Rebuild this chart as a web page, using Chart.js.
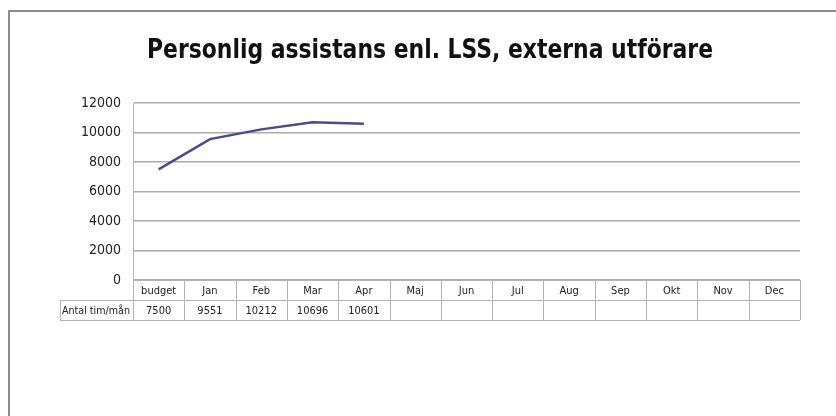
<!DOCTYPE html>
<html>
<head>
<meta charset="utf-8">
<script src="https://cdn.jsdelivr.net/npm/chart.js@4.4.1/dist/chart.umd.min.js"></script>
<style>
  html, body { margin: 0; padding: 0; background: #fff; }
  #wrap { position: relative; width: 836px; height: 416px; overflow: hidden; }
  #frame { position: absolute; left: 8px; top: 10px; right: -4px; bottom: -4px;
           border-top: 2px solid #8c8c8c; border-left: 2px solid #8c8c8c; }
  canvas { position: absolute; left: 0; top: 0; }
</style>
</head>
<body>
<div id="wrap">
  <div id="frame"></div>
  <canvas id="chart" width="836" height="416"></canvas>
</div>
<script>
// ─── Data ─────────────────────────────────────────────────────────────────────
const chartTitle = 'Personlig assistans enl. LSS, externa utförare';
const categories = ['budget', 'Jan', 'Feb', 'Mar', 'Apr', 'Maj', 'Jun', 'Jul', 'Aug', 'Sep', 'Okt', 'Nov', 'Dec'];
const seriesLabel = 'Antal tim/mån';
const hours = [7500, 9551, 10212, 10696, 10601, null, null, null, null, null, null, null, null];
const yMin = 0, yMax = 12000, yStep = 2000;

const narrow = "'Liberation Sans Narrow', 'DejaVu Sans Condensed', sans-serif";

// ─── Title + data table under the plot ────────────────────────────────────────
const tablePlugin = {
  id: 'dataTable',
  afterDraw(chart) {
    const ctx = chart.ctx;
    const x = chart.scales.x;
    const area = chart.chartArea;
    const colW = x.getPixelForValue(1) - x.getPixelForValue(0);
    const top = area.bottom, rowH = 20, labelLeft = 60;

    ctx.save();
    // title (squeezed to the reference width)
    ctx.fillStyle = '#111';
    ctx.font = `bold 27px ${narrow}`;
    ctx.textAlign = 'center';
    ctx.textBaseline = 'middle';
    ctx.fillText(chartTitle, 430, 51, 566);

    // table lines
    ctx.strokeStyle = '#b4b4b4';
    ctx.lineWidth = 1;
    ctx.beginPath();
    ctx.moveTo(area.left, top + 0.5); ctx.lineTo(area.right, top + 0.5);
    ctx.moveTo(labelLeft, top + rowH + 0.5); ctx.lineTo(area.right, top + rowH + 0.5);
    ctx.moveTo(labelLeft, top + 2 * rowH + 0.5); ctx.lineTo(area.right, top + 2 * rowH + 0.5);
    ctx.moveTo(labelLeft + 0.5, top + rowH); ctx.lineTo(labelLeft + 0.5, top + 2 * rowH);
    categories.forEach((c, i) => {
      const lx = Math.round(x.getPixelForValue(i) - colW / 2) + 0.5;
      ctx.moveTo(lx, top); ctx.lineTo(lx, top + 2 * rowH);
    });
    ctx.moveTo(Math.round(area.right) + 0.5, top); ctx.lineTo(Math.round(area.right) + 0.5, top + 2 * rowH);
    ctx.stroke();

    // texts
    ctx.fillStyle = '#222';
    ctx.font = `11px ${narrow}`;
    categories.forEach((c, i) => {
      const cx = x.getPixelForValue(i);
      ctx.fillText(c, cx, top + rowH / 2 + 1, colW - 6);
      if (hours[i] != null) ctx.fillText(String(hours[i]), cx, top + rowH * 1.5 + 1, colW - 10);
    });
    ctx.textAlign = 'left';
    ctx.fillText(seriesLabel, labelLeft + 2, top + rowH * 1.5 + 1, area.left - labelLeft - 5);
    ctx.restore();
  },
};

new Chart(document.getElementById('chart').getContext('2d'), {
  type: 'line',
  data: {
    labels: categories,
    datasets: [{
      label: seriesLabel,
      data: hours,
      borderColor: '#4a4a8e',
      borderWidth: 2.5,
      pointRadius: 0,
      tension: 0,
      spanGaps: false,
    }],
  },
  options: {
    responsive: false,
    animation: false,
    layout: { padding: { left: 73, right: 36, top: 103, bottom: 136 } },
    plugins: { legend: { display: false }, tooltip: { enabled: false } },
    scales: {
      x: { display: false, offset: true },
      y: {
        min: yMin, max: yMax,
        afterFit: s => { s.width = 60; },
        ticks: {
          stepSize: yStep, padding: 12, color: '#222',
          font: { size: 14, family: narrow },
          callback: v => String(v),
        },
        grid: { color: '#ababab', lineWidth: 1.5, drawTicks: false },
        border: { display: true, color: '#b4b4b4' },
      },
    },
  },
  plugins: [tablePlugin],
});
</script>
</body>
</html>
